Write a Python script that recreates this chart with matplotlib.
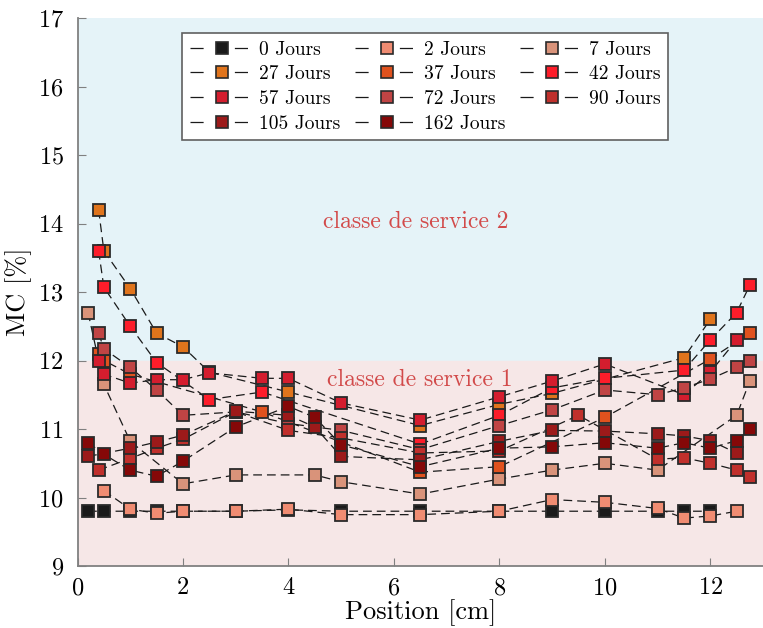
import numpy as np
import matplotlib
matplotlib.use("Agg")
from matplotlib import pyplot as plt
from matplotlib.lines import Line2D

plt.rcParams['font.family'] = ['cmr10', 'DejaVu Serif']
plt.rcParams['mathtext.fontset'] = 'cm'
plt.rcParams['axes.unicode_minus'] = False
plt.rcParams['axes.formatter.use_mathtext'] = True

# series: day label, positions [cm], moisture content [%]
labels = ["0 Jours", "2 Jours", "7 Jours", "27 Jours", "37 Jours", "42 Jours",
          "57 Jours", "72 Jours", "90 Jours", "105 Jours", "162 Jours"]

pos0 = [0.2, 0.5, 1, 1.5, 2, 3, 4, 5, 6.5, 8, 9, 10, 11, 11.5, 12]
mc0 = [9.8, 9.8, 9.8, 9.8, 9.8, 9.8, 9.82, 9.8, 9.8, 9.8, 9.8, 9.8, 9.8, 9.8, 9.8]

pos2 = [0.5, 1, 1.5, 2, 3, 4, 5, 6.5, 8, 9, 10, 11, 11.5, 12, 12.5]
mc2 = [10.1, 9.83, 9.77, 9.8, 9.8, 9.83, 9.75, 9.75, 9.8, 9.97, 9.93, 9.84, 9.7, 9.73, 9.8]

pos7 = [0.2, 0.5, 1, 2, 3, 4.5, 5, 6.5, 8, 9, 10, 11, 12.5, 12.75]
mc7 = [12.7, 11.65, 10.82, 10.2, 10.33, 10.33, 10.23, 10.05, 10.27, 10.4, 10.5, 10.4, 11.2, 11.7]

pos27 = [0.4, 0.5, 1, 1.5, 2, 2.5, 4, 6.5, 8, 9, 11.5, 12]
mc27 = [14.2, 13.6, 13.05, 12.4, 12.2, 11.83, 11.54, 11.05, 11.36, 11.52, 12.04, 12.6]

pos37 = [0.4, 0.5, 1, 3.5, 6.5, 8, 10, 12, 12.75]
mc37 = [12.1, 12.0, 11.8, 11.25, 10.37, 10.45, 11.17, 12.02, 12.4]

pos42 = [0.4, 0.5, 1, 1.5, 2.5, 3.5, 6.5, 8, 9, 10, 11.5, 12, 12.5, 12.75]
mc42 = [13.6, 13.07, 12.5, 11.97, 11.43, 11.54, 10.78, 11.2, 11.6, 11.74, 11.86, 12.3, 12.7, 13.1]

pos57 = [0.4, 0.5, 1, 1.5, 2, 2.5, 3.5, 4, 5, 6.5, 8, 9, 10, 11.5, 12, 12.5]
mc57 = [12.0, 11.8, 11.67, 11.72, 11.72, 11.82, 11.74, 11.74, 11.38, 11.13, 11.47, 11.7, 11.95, 11.5, 11.83, 12.3]

pos72 = [0.4, 0.5, 1, 1.5, 2, 3, 4, 5, 6.5, 8, 9, 10, 11, 11.5, 12, 12.5, 12.75]
mc72 = [12.4, 12.17, 11.9, 11.57, 11.2, 11.25, 11.08, 10.98, 10.7, 11.05, 11.28, 11.57, 11.5, 11.6, 11.73, 11.9, 12.0]

pos90 = [0.4, 1, 1.5, 2, 3, 4, 5, 6.5, 8, 9.5, 11, 11.5, 12, 12.5, 12.75]
mc90 = [10.4, 10.57, 10.72, 10.85, 11.25, 10.98, 10.87, 10.65, 10.68, 11.2, 10.56, 10.58, 10.5, 10.4, 10.3]

pos105 = [0.2, 1, 1.5, 2, 3, 4, 4.5, 5, 6.5, 8, 9, 10, 11, 11.5, 12, 12.5]
mc105 = [10.6, 10.72, 10.81, 10.91, 11.26, 11.2, 11.03, 10.6, 10.55, 10.82, 10.98, 10.97, 10.93, 10.9, 10.83, 10.65]

pos162 = [0.2, 0.5, 1, 1.5, 2, 3, 4, 4.5, 5, 6.5, 8, 9, 10, 11, 11.5, 12, 12.5, 12.75]
mc162 = [10.8, 10.63, 10.4, 10.31, 10.53, 11.03, 11.33, 11.17, 10.77, 10.45, 10.72, 10.74, 10.8, 10.72, 10.8, 10.72, 10.83, 11.0]

colors = ['#1a1a1a', '#f08c72', '#d9937a', '#e0741c', '#e0521e', '#fd1d2a',
          '#d41d2e', '#c04444', '#c0302c', '#9c1a1a', '#850808']

positions = [pos0, pos2, pos7, pos27, pos37, pos42, pos57, pos72, pos90, pos105, pos162]
values = [mc0, mc2, mc7, mc27, mc37, mc42, mc57, mc72, mc90, mc105, mc162]

fig = plt.figure(figsize=(7.63, 6.28), dpi=100)
ax = fig.add_axes([0.1016, 0.0987, 0.8984, 0.8726])

ax.axhspan(12, 17, color='#e5f3f8', zorder=0)
ax.axhspan(9, 12, color='#f6e7e7', zorder=0)

# dashed connecting lines first, markers on top
for x, y in zip(positions, values):
    ax.plot(x, y, linestyle=(0, (7, 4)), color='#1a1a1a', linewidth=0.9, zorder=2)
for x, y, c in zip(positions, values, colors):
    ax.plot(x, y, linestyle='none', marker='s', markersize=8.5,
            markerfacecolor=c, markeredgecolor='#2a2a2a', markeredgewidth=1.3, zorder=3)

ax.text(6.42, 14.02, "classe de service 2", color='#d24a4a', fontsize=17,
        ha='center', va='center', zorder=4)
ax.text(6.5, 11.72, "classe de service 1", color='#d24a4a', fontsize=17,
        ha='center', va='center', zorder=4)

ax.set_xlim(0, 13)
ax.set_ylim(9, 17)
ax.set_xticks([0, 2, 4, 6, 8, 10, 12])
ax.set_yticks(np.arange(9, 18, 1))
ax.tick_params(direction='in', length=6, color='#808080', labelsize=17.5, pad=8)
ax.tick_params(axis='y', pad=10)
ax.set_xlabel("Position [cm]", fontsize=19, labelpad=0)
ax.set_ylabel("MC [%]", fontsize=19, labelpad=4)

for side in ['top', 'right']:
    ax.spines[side].set_visible(False)
for side in ['left', 'bottom']:
    ax.spines[side].set_color('#808080')
    ax.spines[side].set_linewidth(1.3)

# legend, filled row by row
order = [0, 3, 6, 9, 1, 4, 7, 10, 2, 5, 8]
handles = [Line2D([], [], linestyle=(0, (10.5, 25)), color='#1a1a1a', linewidth=0.9,
                  marker='s', markersize=8, markerfacecolor=colors[i],
                  markeredgecolor='#2a2a2a', markeredgewidth=1.2) for i in order]
leg = ax.legend(handles, [labels[i] for i in order], ncol=3, loc='upper center',
                bbox_to_anchor=(0.507, 0.973), fontsize=14, handlelength=3.3,
                handletextpad=0.25, columnspacing=0.75, labelspacing=0.35,
                borderpad=0.4, fancybox=False, framealpha=1, borderaxespad=0)
leg.get_frame().set_edgecolor('#606060')
leg.get_frame().set_linewidth(1.2)
leg.set_zorder(5)

fig.savefig("out.png", dpi=100)
